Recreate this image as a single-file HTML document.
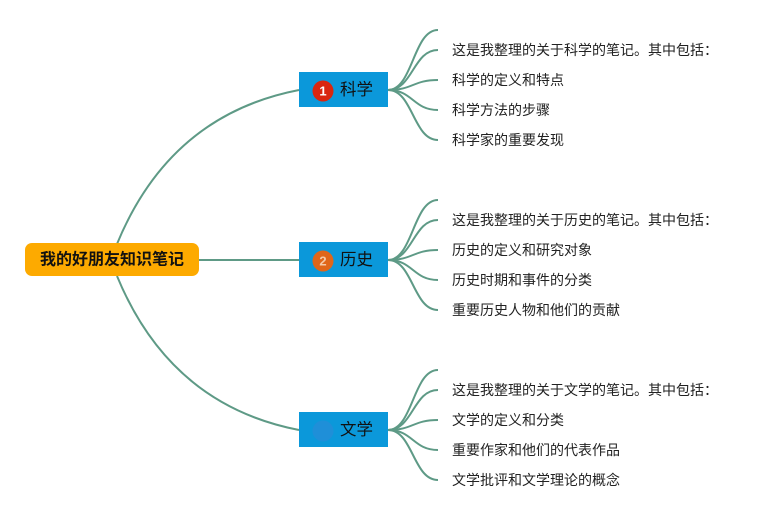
<!DOCTYPE html>
<html>
<head>
<meta charset="utf-8">
<style>
  html,body{margin:0;padding:0;background:#fff;}
  svg{display:block;}
  text{font-family:"Liberation Sans","Noto Sans CJK SC",sans-serif;}
</style>
</head>
<body>
<svg width="779" height="520" viewBox="0 0 779 520" xmlns="http://www.w3.org/2000/svg">
  <g fill="none" stroke="#5e9a86" stroke-width="2">
    <!-- main connectors -->
    <path d="M117 244 Q170 115 299 90"/>
    <path d="M199 260 L299 260"/>
    <path d="M117 276 Q170 405 299 430"/>
    <!-- science leaves -->
    <path d="M388 90 C413 90 413 30 438 30"/>
    <path d="M388 90 C413 90 413 50 438 50"/>
    <path d="M388 90 C413 90 413 80 438 80"/>
    <path d="M388 90 C413 90 413 110 438 110"/>
    <path d="M388 90 C413 90 413 140 438 140"/>
    <!-- history leaves -->
    <path d="M388 260 C413 260 413 200 438 200"/>
    <path d="M388 260 C413 260 413 220 438 220"/>
    <path d="M388 260 C413 260 413 250 438 250"/>
    <path d="M388 260 C413 260 413 280 438 280"/>
    <path d="M388 260 C413 260 413 310 438 310"/>
    <!-- literature leaves -->
    <path d="M388 430 C413 430 413 370 438 370"/>
    <path d="M388 430 C413 430 413 390 438 390"/>
    <path d="M388 430 C413 430 413 420 438 420"/>
    <path d="M388 430 C413 430 413 450 438 450"/>
    <path d="M388 430 C413 430 413 480 438 480"/>
  </g>

  <!-- root -->
  <rect x="25" y="243" width="174" height="33" rx="7" fill="#fdaa00"/>
  <text x="112" y="260" font-size="16" font-weight="bold" fill="#111" text-anchor="middle" dominant-baseline="central">我的好朋友知识笔记</text>

  <!-- science -->
  <rect x="299" y="72" width="89" height="35" fill="#0b98da"/>
  <circle cx="323" cy="91" r="10.5" fill="#d9260f"/>
  <text x="323" y="91" font-size="13" font-weight="bold" fill="#fff" text-anchor="middle" dominant-baseline="central">1</text>
  <text x="340" y="90" font-size="16.5" fill="#111" dominant-baseline="central">科学</text>

  <!-- history -->
  <rect x="299" y="242" width="89" height="35" fill="#0b98da"/>
  <circle cx="323" cy="261" r="10.5" fill="#e0661a"/>
  <text x="323" y="261" font-size="13" font-weight="bold" fill="#f4c9a8" text-anchor="middle" dominant-baseline="central">2</text>
  <text x="340" y="260" font-size="16.5" fill="#111" dominant-baseline="central">历史</text>

  <!-- literature -->
  <rect x="299" y="412" width="89" height="35" fill="#0b98da"/>
  <circle cx="323" cy="431" r="10.5" fill="#1f8fd8"/>
  <text x="340" y="430" font-size="16.5" fill="#111" dominant-baseline="central">文学</text>

  <g font-size="14" fill="#222" dominant-baseline="central">
    <text x="452" y="50">这是我整理的关于科学的笔记。其中包括：</text>
    <text x="452" y="80">科学的定义和特点</text>
    <text x="452" y="110">科学方法的步骤</text>
    <text x="452" y="140">科学家的重要发现</text>

    <text x="452" y="220">这是我整理的关于历史的笔记。其中包括：</text>
    <text x="452" y="250">历史的定义和研究对象</text>
    <text x="452" y="280">历史时期和事件的分类</text>
    <text x="452" y="310">重要历史人物和他们的贡献</text>

    <text x="452" y="390">这是我整理的关于文学的笔记。其中包括：</text>
    <text x="452" y="420">文学的定义和分类</text>
    <text x="452" y="450">重要作家和他们的代表作品</text>
    <text x="452" y="480">文学批评和文学理论的概念</text>
  </g>
</svg>
</body>
</html>
